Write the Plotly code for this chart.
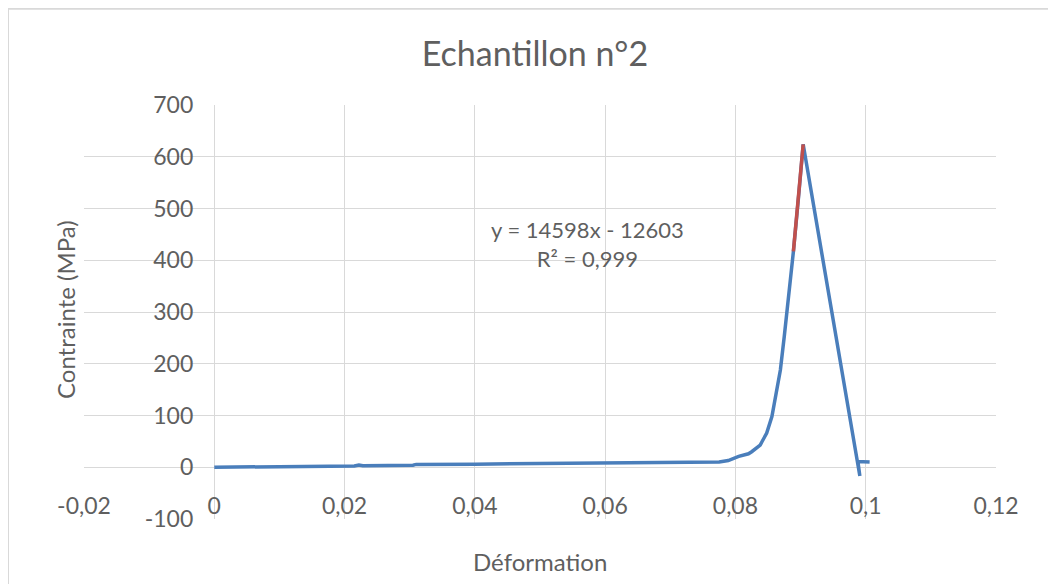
import plotly.graph_objects as go

# Data
strain = [0, 0.005, 0.010, 0.013, 0.0165, 0.0215, 0.0222, 0.0228, 0.0305, 0.031,
          0.040, 0.0498, 0.051, 0.0515, 0.052, 0.060, 0.070, 0.0759, 0.0775, 0.0789,
          0.0797, 0.0805, 0.082, 0.0825, 0.0838, 0.0848, 0.0856, 0.0863, 0.0869,
          0.0875, 0.0881, 0.0886, 0.0889, 0.0897, 0.0902, 0.0904, 0.0991, 0.0988, 0.1006]
stress = [0, 0.3, 0.6, 0.8, 1.5, 2.5, 4.5, 2.8, 4, 5.5,
          6, 6.8, 7.5, 6.5, 7.5, 7.8, 8, 8.5, 10, 13,
          17, 21, 26, 30, 43, 66, 98, 143, 188,
          253, 317, 382, 417, 524, 595, 624, -17, 11, 10]

fit_strain = [0.0889, 0.0893, 0.0897, 0.0902, 0.0904]
fit_stress = [417, 470, 524, 595, 624]

x_ticks = [-0.02, 0, 0.02, 0.04, 0.06, 0.08, 0.1, 0.12]
x_labels = ["-0,02", "0", "0,02", "0,04", "0,06", "0,08", "0,1", "0,12"]
y_ticks = [-100, 0, 100, 200, 300, 400, 500, 600, 700]
y_labels = ["-100", "0", "100", "200", "300", "400", "500", "600", "700"]

title = "Echantillon n°2"
x_title = "Déformation"
y_title = "Contrainte (MPa)"
equation = "y = 14598x - 12603<br>R² = 0,999"

FONT = "Lato"
GRAY = "#5f5f5f"
GRID = "#d9d9d9"

# page offset of the figure inside the browser window
OX, OY = 8, 8
L, T, PW, PH = 84 - OX, 105 - OY, 912, 414

fig = go.Figure()
fig.add_trace(go.Scatter(x=strain, y=stress, mode="lines",
                         line=dict(color="#4a7ebb", width=3.5), showlegend=False))
fig.add_trace(go.Scatter(x=fit_strain, y=fit_stress, mode="lines",
                         line=dict(color="#c0504d", width=3.5), showlegend=False))

def px(xs):
    return (xs - OX - L) / PW

def py(ys):
    return (T + PH - (ys - OY)) / PH

fig.update_layout(
    width=1056, height=584,
    margin=dict(l=L, r=1056 - L - PW, t=T, b=584 - T - PH),
    paper_bgcolor="white", plot_bgcolor="white",
    font=dict(family=FONT, color=GRAY),
    title=dict(text=title, x=(535 - OX) / 1056, xref="container", xanchor="center",
               y=1 - (54 - OY) / 584, yref="container", yanchor="middle",
               font=dict(family=FONT, size=34, color=GRAY)),
    xaxis=dict(range=[-0.02, 0.12], tickvals=x_ticks, ticktext=x_labels,
               showgrid=True, gridcolor=GRID, gridwidth=1, zeroline=False,
               showline=False, ticks="", anchor="free", position=0.125,
               ticklabelstandoff=23, tickfont=dict(family=FONT, size=23, color=GRAY)),
    yaxis=dict(range=[-100, 700], tickvals=y_ticks, ticktext=y_labels,
               showgrid=True, gridcolor=GRID, gridwidth=1, zeroline=False,
               showline=False, ticks="", anchor="free", position=1 / 7,
               ticklabelstandoff=21, tickfont=dict(family=FONT, size=23, color=GRAY)),
    shapes=[dict(type="rect", xref="paper", yref="paper",
                 x0=px(8), x1=px(1090),
                 y0=py(8.7), y1=py(620),
                 line=dict(color=GRID, width=2), layer="below")],
    annotations=[
        dict(text=equation, xref="paper", yref="paper",
             x=px(587), y=py(244), showarrow=False,
             xanchor="center", yanchor="middle", align="center",
             font=dict(family=FONT, size=22, color=GRAY)),
        dict(text=x_title, xref="paper", yref="paper",
             x=px(540), y=py(561), showarrow=False,
             xanchor="center", yanchor="middle",
             font=dict(family=FONT, size=24, color=GRAY)),
        dict(text=y_title, xref="paper", yref="paper",
             x=px(65), y=py(310), showarrow=False,
             xanchor="center", yanchor="middle", textangle=-90,
             font=dict(family=FONT, size=24, color=GRAY)),
    ],
)

fig.write_html("out.html")
